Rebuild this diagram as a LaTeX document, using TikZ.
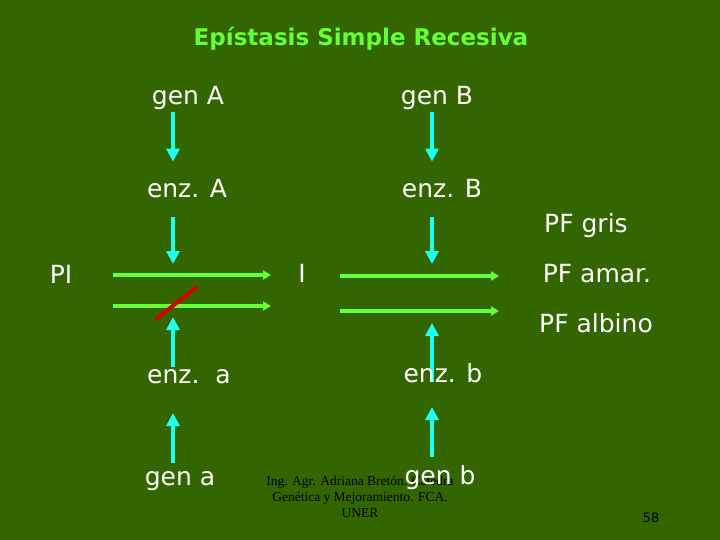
\documentclass[tikz,border=0pt]{standalone}
\usepackage{fontspec}
\setmainfont{DejaVu Sans}
\newfontfamily\footfont{Liberation Serif}
\usetikzlibrary{arrows.meta}
\definecolor{slidegreen}{RGB}{51,102,0}
\definecolor{lightgreen}{RGB}{102,255,51}
\definecolor{enzcyan}{RGB}{30,255,240}
\definecolor{blockred}{RGB}{210,0,0}
\pgfdeclarelayer{bg}
\pgfsetlayers{bg,main}

\begin{document}
\begin{tikzpicture}[x=1pt,y=-1pt,
  lbl/.style={anchor=base,inner sep=0pt,text=white,font=\fontsize{25}{30}\selectfont},
  enzarrow/.style={enzcyan,line width=4pt,-{Triangle[length=13pt,width=13pt]}},
  pathway/.style={lightgreen,line width=4pt,-{Triangle[length=8pt,width=9pt]}}]
  \begin{pgfonlayer}{bg}
    \fill[slidegreen] (0,0) rectangle (720,540);
  \end{pgfonlayer}
  \useasboundingbox (0,0) rectangle (720,540);
  % columns of the two genes
  \coordinate (colA) at (173,0); \coordinate (colB) at (432,0);

  \node[anchor=base,text=lightgreen,font=\bfseries\fontsize{23}{28}\selectfont] (title) at (361,46) {Epístasis Simple Recesiva};

  % footer
  \node[anchor=north,align=center,inner sep=0pt,font=\footfont\fontsize{13.5}{16}\selectfont] (foot) at (360,476) {Ing. Agr. Adriana Bretón. Cátedra\\Genética y Mejoramiento. FCA.\\UNER};
  \node[anchor=base,inner sep=0pt,font=\fontsize{13}{15}\selectfont] (page) at (651,522) {58};

  % dominant alleles
  \node[lbl] (genA) at (188,105) {gen A};
  \node[lbl] (genB) at (437,105) {gen B};
  \node[lbl] (enzA) at (187,198) {enz. A};
  \node[lbl] (enzB) at (442,198) {enz. B};
  % recessive alleles
  \node[lbl] (enza) at (189,383) {enz.\ \ a};
  \node[lbl] (enzb) at (443,382) {enz. b};
  \node[lbl] (gena) at (180,485) {gen a};
  \node[lbl] (genb) at (440,484) {gen b};
  % pathway
  \node[lbl] (PI) at (61,283) {PI};
  \node[lbl] (I) at (302,282) {I};
  \node[lbl] (gris) at (586,233) {PF gris};
  \node[lbl] (amar) at (597,282) {PF amar.};
  \node[lbl] (albino) at (596,332) {PF albino};

  \coordinate (topL1) at (113,275); \coordinate (topL2) at (271,275);
  \coordinate (botL1) at (113,306); \coordinate (botL2) at (271,306);
  \coordinate (topR1) at (340,276); \coordinate (topR2) at (499,276);
  \coordinate (botR1) at (340,311); \coordinate (botR2) at (499,311);
  \coordinate (hitA) at (173,264); \coordinate (hitB) at (432,264);
  \coordinate (hita) at (173,317); \coordinate (hitb) at (432,323);
  \coordinate (blk1) at (156,319); \coordinate (blk2) at (197,287);

  \begin{pgfonlayer}{bg}
    \draw[pathway] (topL1) -- (topL2);
    \draw[pathway] (botL1) -- (botL2);
    \draw[pathway] (topR1) -- (topR2);
    \draw[pathway] (botR1) -- (botR2);
    \draw[enzarrow, shorten <=2pt, shorten >=18pt] (genA.south -| colA) -- (enzA.north -| colA);
    \draw[enzarrow, shorten <=2pt, shorten >=18pt] (genB.south -| colB) -- (enzB.north -| colB);
    \draw[enzarrow, shorten <=19pt] (enzA.base -| colA) -- (hitA);
    \draw[enzarrow, shorten <=19pt] (enzB.base -| colB) -- (hitB);
    \draw[enzarrow, shorten <=8pt, shorten >=30pt] (gena.north -| colA) -- (enza.base -| colA);
    \draw[enzarrow, shorten <=8pt, shorten >=25pt] (genb.north -| colB) -- (enzb.base -| colB);
    \draw[enzarrow, shorten <=2pt] (enza.north -| colA) -- (hita);
    \draw[enzarrow] (enzb.base -| colB) -- (hitb);
    \draw[blockred, line width=4pt] (blk1) -- (blk2);
  \end{pgfonlayer}
\end{tikzpicture}
\end{document}
